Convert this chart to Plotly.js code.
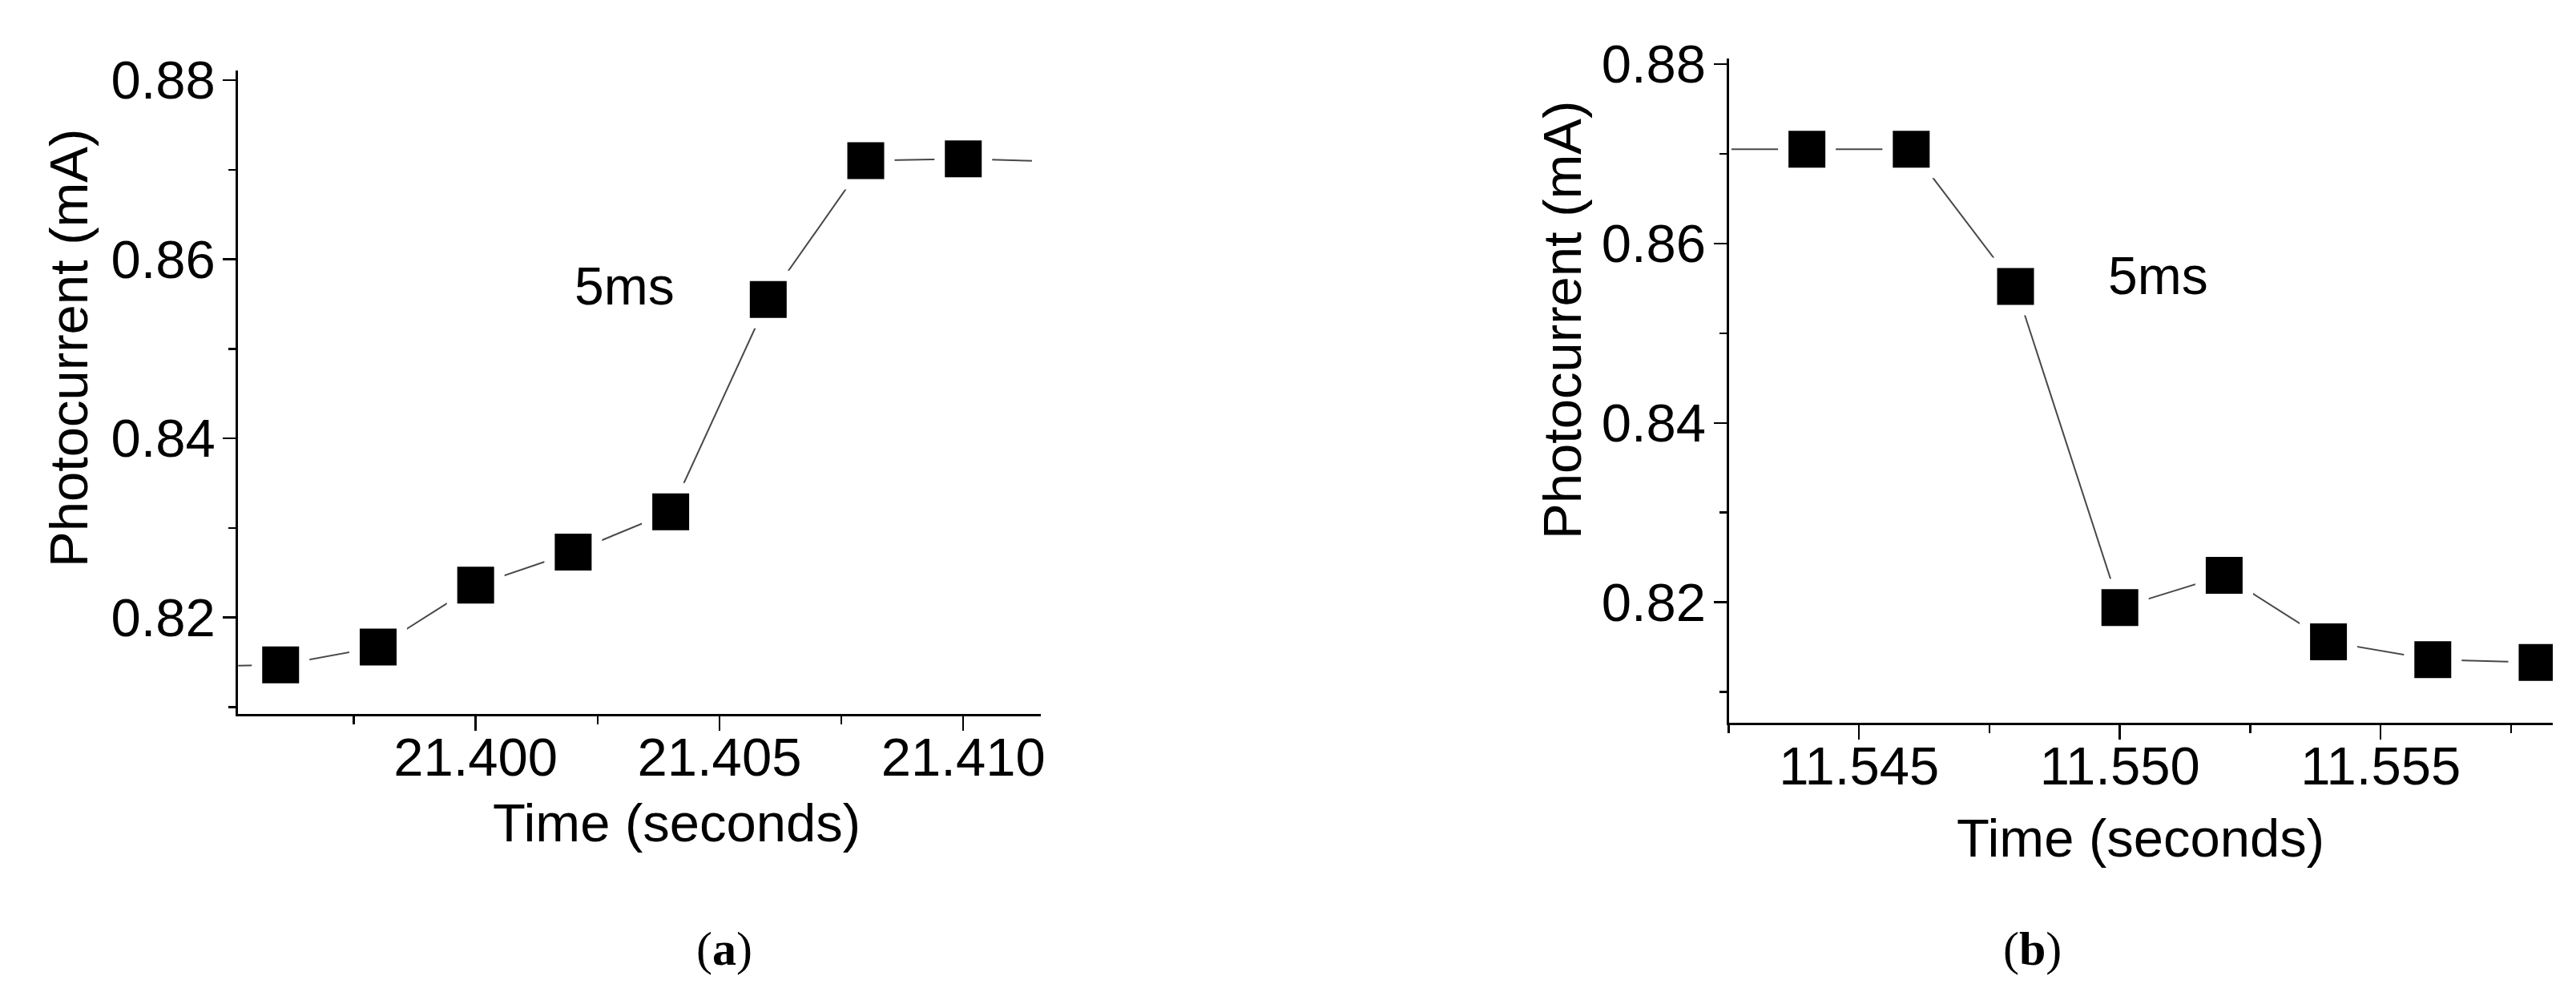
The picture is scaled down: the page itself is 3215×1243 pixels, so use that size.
<!DOCTYPE html>
<html>
<head>
<meta charset="utf-8">
<script src="https://cdn.plot.ly/plotly-3.0.1.min.js"></script>
<style>
  html, body { margin: 0; padding: 0; background: #fff; }
  #chart { width: 3215px; height: 1243px; }
</style>
</head>
<body>
<div id="chart"></div>
<script>
// ~~~ data ~~~
// panel (a): rising edge
const timeA = [21.394, 21.396, 21.398, 21.400, 21.402, 21.404, 21.406, 21.408, 21.410, 21.412];
const currentA = [0.8145, 0.8147, 0.8167, 0.8236, 0.8273, 0.8318, 0.8555, 0.8710, 0.8712, 0.8709];
// panel (b): falling edge
const timeB = [11.542, 11.544, 11.546, 11.548, 11.550, 11.552, 11.554, 11.556, 11.558];
const currentB = [0.8705, 0.8705, 0.8705, 0.8552, 0.8194, 0.8230, 0.8156, 0.8136, 0.8133];

const xTicksA = [21.400, 21.405, 21.410];
const xLabelsA = ['21.400', '21.405', '21.410'];
const xTicksB = [11.545, 11.550, 11.555];
const xLabelsB = ['11.545', '11.550', '11.555'];
const yTicks = [0.82, 0.84, 0.86, 0.88];
const yLabels = ['0.82', '0.84', '0.86', '0.88'];

const xTitle = 'Time (seconds)';
const yTitle = 'Photocurrent (mA)';
const riseLabel = '5ms';

// ~~~ helpers ~~~
const W = 3215, H = 1243;
const px = x => x / W;
const py = y => 1 - y / H;
const FONT = 'Liberation Sans, Arial, sans-serif';
const SERIF = 'Liberation Serif, Times New Roman, serif';

// line, white halo (the gap Origin leaves round a symbol), black square
const makeTraces = (x, y, xa, ya) => [
  {
    type: 'scatter', mode: 'lines', x, y, xaxis: xa, yaxis: ya,
    line: {color: '#484848', width: 2}, hoverinfo: 'skip',
  },
  {
    type: 'scatter', mode: 'markers', x, y, xaxis: xa, yaxis: ya,
    marker: {symbol: 'square', size: 72, color: '#ffffff', line: {width: 0}},
    hoverinfo: 'skip',
  },
  {
    type: 'scatter', mode: 'markers', x, y, xaxis: xa, yaxis: ya,
    marker: {symbol: 'square', size: 46, color: '#000000', line: {width: 0}},
  },
];

const xAxis = (domain, range, anchor, tickvals, ticktext, minorDtick) => ({
  domain, range, anchor,
  showline: true, linecolor: '#000', linewidth: 3,
  showgrid: false, zeroline: false,
  ticks: 'outside', ticklen: 18, tickwidth: 2.5, tickcolor: '#000',
  tickmode: 'array', tickvals, ticktext,
  ticklabelstandoff: -24,
  tickfont: {family: FONT, size: 67, color: '#000'},
  minor: {ticks: 'outside', ticklen: 10, tickwidth: 2.5, tickcolor: '#000', dtick: minorDtick, tick0: tickvals[0]},
});

const yAxis = (domain, range, anchor) => ({
  domain, range, anchor,
  showline: true, linecolor: '#000', linewidth: 3,
  showgrid: false, zeroline: false,
  ticks: 'outside', ticklen: 16, tickwidth: 2.5, tickcolor: '#000',
  tickmode: 'array', tickvals: yTicks, ticktext: yLabels,
  ticklabelstandoff: -4,
  tickfont: {family: FONT, size: 67, color: '#000'},
  minor: {ticks: 'outside', ticklen: 9, tickwidth: 2.5, tickcolor: '#000', dtick: 0.01, tick0: 0.81},
});

const note = (text, x, y, extra) => ({
  text, x: px(x), y: py(y), xref: 'paper', yref: 'paper',
  xanchor: 'center', yanchor: 'middle', showarrow: false,
  font: {family: FONT, size: 67, color: '#000'},
  ...extra,
});

const data = [
  ...makeTraces(timeA, currentA, 'x', 'y'),
  ...makeTraces(timeB, currentB, 'x2', 'y2'),
];

const layout = {
  width: W, height: H,
  margin: {l: 0, r: 0, t: 0, b: 0},
  paper_bgcolor: '#fff', plot_bgcolor: '#fff',
  showlegend: false,
  xaxis: xAxis([px(297.3), px(1299)], [21.39513, 21.41159], 'y', xTicksA, xLabelsA, 0.0025),
  yaxis: yAxis([py(891), py(87.7)], [0.80922, 0.8811], 'x'),
  xaxis2: xAxis([px(2157.5), px(3186)], [11.5425, 11.5583], 'y2', xTicksB, xLabelsB, 0.0025),
  yaxis2: yAxis([py(902), py(72.7)], [0.80657, 0.88065], 'x2'),
  annotations: [
    note(yTitle, 85, 435, {textangle: -90}),
    note(yTitle, 1949, 400, {textangle: -90}),
    note(xTitle, 844, 1026),
    note(xTitle, 2671, 1045),
    note(riseLabel, 779, 357, {font: {family: FONT, size: 66, color: '#000'}}),
    note(riseLabel, 2693, 344, {font: {family: FONT, size: 66, color: '#000'}}),
    note('(<b>a</b>)', 904, 1184, {font: {family: SERIF, size: 60, color: '#000'}}),
    note('(<b>b</b>)', 2536, 1184, {font: {family: SERIF, size: 60, color: '#000'}}),
  ],
};

Plotly.newPlot('chart', data, layout, {staticPlot: true});
</script>
</body>
</html>
